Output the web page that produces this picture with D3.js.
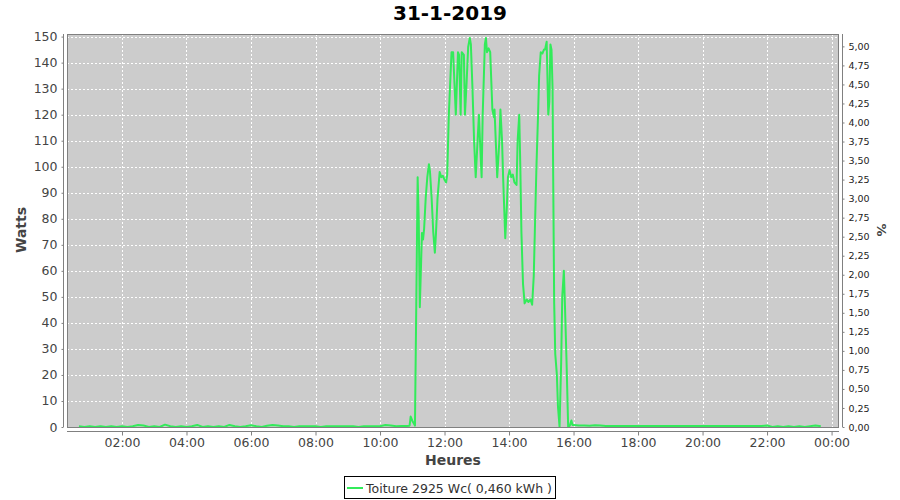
<!DOCTYPE html>
<html><head><meta charset="utf-8">
<script src="https://cdn.jsdelivr.net/npm/d3@7"></script>
<style>body{margin:0;background:#fff;}svg{display:block;font-family:"DejaVu Sans",sans-serif;}</style>
</head><body>
<svg id="c" width="900" height="500"></svg>
<script>
const title = "31-1-2019";
const seriesName = "Toiture 2925 Wc( 0,460 kWh )";
const peakWc = 2925;
const xTickFormat = "%H:%M";
const yTicksLeft = [0,10,20,30,40,50,60,70,80,90,100,110,120,130,140,150];
const yTicksRight = [0,0.25,0.5,0.75,1,1.25,1.5,1.75,2,2.25,2.5,2.75,3,3.25,3.5,3.75,4,4.25,4.5,4.75,5];

// night (morning) readings, every 10 min from 00:40
const nightAMStart = "00:40";
const nightAM = [0.3,0,0.3,0,0.3,0,0.3,0,0.3,0,0.3,0.8,0.6,0,0.3,0,0.9,0.3,0,0.3,0,0.3,0.8,0,0.3,0,0.3,0,0.8,0.3,0,0.3,0.7,0.3,0,0.5,0.8,0.6,
  0.3,0.3,0,0.3,0.3,0.3,0.3,0,0.3,0.3,0.3,0.3,0.3,0.3,0,0.3,0.3,0.3,0.3,0.8,0.6,0.3,0.4,0.4];
// daytime readings
const dayTimes = ["10:55","10:57","11:01","11:04","11:05","11:10","11:12","11:14","11:16","11:18","11:20","11:22","11:25","11:28","11:31","11:33","11:36","11:39","11:42","11:44","11:47","11:51","11:54","11:57","12:00","12:03","12:05","12:08",
  "12:13","12:16","12:21","12:25","12:27","12:30","12:32","12:36","12:38","12:41","12:44","12:47","12:49","12:52","12:55","12:58","13:01","13:04","13:06","13:09","13:11","13:15","13:17","13:19","13:22","13:25","13:29","13:32","13:33","13:38","13:42","13:44","13:47","13:49","13:53","13:56","13:58",
  "14:01","14:04","14:07","14:10","14:14","14:16","14:19","14:21","14:23","14:26","14:29","14:33","14:36","14:40","14:43","14:46","14:48","14:51","14:54","14:56","14:59","15:02","15:05","15:07","15:10","15:13","15:15","15:17","15:19","15:21","15:22","15:24","15:26","15:29","15:31","15:34","15:37","15:39","15:42","15:44","15:47","15:50","15:53","15:56","15:58"];
const dayWatts = [0.5,4,2,1,0.5,96,80,46,60,74.5,72,76,88,96,101,98,88,75,67,74,88,98,96,96.5,95,94,97,120,
  144,144,120,144,143,120,144,143,120,132,146,149.5,147,130,110,96,108,120,110,96,120,147,149.5,144,145.5,144,122,119,122,96,110,122,110,96,72.5,85,96,
  98.7,96,97,94,93,110,120,100,75,55,47.5,49,48,49,47,58,75,100,120,135,144,143.5,145,145,148,120,125,147,145,130,100,47.5,28,20,8,0,25,50,60,47,25,0,0.5,2.5,0.8];
// night (evening) readings, every 10 min from 16:00
const nightPMStart = "16:00";
const nightPM = [0.8,0.6,0.6,0.5,0.7,0.6,
  0.4,0.4,0.4,0.4,0.4,0.4,0.4,0.4,0.4,0.4,0.4,0.4,0.4,0.4,0.4,0.4,0.4,0.4,0.4,0.4,0.4,0.4,0.4,0.4,0.4,0.4,0.4,0.4,0.4,0.4,
  0.6,0,0.3,0,0.3,0,0.3,0,0.3,0.6,0.3];

const day = d => { const [h,m] = d.split(":").map(Number); return new Date(2019,0,31,h,m); };
const data = [];
nightAM.forEach((v,i)=>data.push({t:d3.timeMinute.offset(day(nightAMStart),10*i),v}));
dayTimes.forEach((t,i)=>data.push({t:day(t),v:dayWatts[i]}));
nightPM.forEach((v,i)=>data.push({t:d3.timeMinute.offset(day(nightPMStart),10*i),v}));

const svg = d3.select("#c");
const P = {l:67, t:34, r:839, b:427};
const x = d3.scaleTime().domain([new Date(2019,0,31,0,17,42), new Date(2019,1,1,0,13,50)]).range([P.l,P.r]);
const y = d3.scaleLinear().domain([0,151]).range([P.b,P.t]);
const y2 = d3.scaleLinear().domain([0,151/peakWc*100]).range([P.b,P.t]);

svg.append("text").attr("x",450).attr("y",20).attr("text-anchor","middle")
  .attr("font-size",20).attr("font-weight","bold").attr("fill","#000").text(title);

svg.append("rect").attr("x",P.l).attr("y",P.t).attr("width",P.r-P.l).attr("height",P.b-P.t).attr("fill","#cccccc");

const xt = d3.timeHour.every(2).range(new Date(2019,0,31,1,0), new Date(2019,1,1,0,30));
const g = svg.append("g");
g.selectAll(".vg").data(xt).join("line").attr("x1",d=>Math.round(x(d))+0.5).attr("x2",d=>Math.round(x(d))+0.5)
  .attr("y1",P.t).attr("y2",P.b).attr("stroke","#ffffff").attr("stroke-dasharray","2,2").attr("stroke-width",1);
g.selectAll(".hg").data(yTicksLeft).join("line").attr("y1",d=>Math.round(y(d))+0.5).attr("y2",d=>Math.round(y(d))+0.5)
  .attr("x1",P.l).attr("x2",P.r).attr("stroke","#ffffff").attr("stroke-dasharray","2,2").attr("stroke-width",1);

svg.append("clipPath").attr("id","clip").append("rect").attr("x",P.l).attr("y",P.t).attr("width",P.r-P.l).attr("height",P.b-P.t);
svg.append("path").datum(data).attr("clip-path","url(#clip)")
  .attr("d",d3.line().x(d=>x(d.t)).y(d=>y(d.v)))
  .attr("fill","none").attr("stroke","#32eb5a").attr("stroke-width",2).attr("stroke-linejoin","round");

svg.append("rect").attr("x",P.l+0.5).attr("y",P.t+0.5).attr("width",P.r-P.l-1).attr("height",P.b-P.t)
  .attr("fill","none").attr("stroke","#808080").attr("stroke-width",1);

// left axis
const ax = svg.append("g").attr("transform",`translate(63.5,0)`)
  .call(d3.axisLeft(y).tickValues(yTicksLeft).tickSize(2).tickPadding(4).tickFormat(d3.format("d")));
ax.select(".domain").attr("d",`M0,${P.t}V${P.b}`).attr("stroke","#808080");
ax.selectAll(".tick line").attr("stroke","#808080");
ax.selectAll("text").attr("font-size",12.5).attr("fill","#444").attr("font-family","DejaVu Sans");

// right axis
const ar = svg.append("g").attr("transform",`translate(842.5,0)`)
  .call(d3.axisRight(y2).tickValues(yTicksRight).tickSize(2).tickPadding(4).tickFormat(d=>d3.format(".2f")(d).replace(".",",")));
ar.select(".domain").attr("d",`M0,${P.t}V${P.b}`).attr("stroke","#808080");
ar.selectAll(".tick line").attr("stroke","#808080");
ar.selectAll("text").attr("font-size",9.5).attr("fill","#222").attr("font-family","DejaVu Sans");

// bottom axis
const ab = svg.append("g").attr("transform",`translate(0,431.5)`)
  .call(d3.axisBottom(x).tickValues(xt).tickSize(4).tickPadding(3).tickFormat(d3.timeFormat(xTickFormat)));
ab.select(".domain").attr("d",`M${P.l},0H${P.r}`).attr("stroke","#808080");
ab.selectAll(".tick line").attr("stroke","#808080");
ab.selectAll("text").attr("font-size",12.5).attr("fill","#444").attr("font-family","DejaVu Sans");

svg.append("text").attr("x",453).attr("y",465).attr("text-anchor","middle").attr("font-size",14)
  .attr("font-weight","bold").attr("fill","#444").text("Heures");
svg.append("text").attr("transform","translate(26,230) rotate(-90)").attr("text-anchor","middle").attr("font-size",14)
  .attr("font-weight","bold").attr("fill","#444").text("Watts");
svg.append("text").attr("transform","translate(877,230) rotate(90)").attr("text-anchor","middle").attr("font-size",13)
  .attr("font-weight","bold").attr("fill","#444").text("%");

// legend
const lg = svg.append("g");
lg.append("rect").attr("x",344.5).attr("y",476.5).attr("width",211).attr("height",22).attr("fill","#fff").attr("stroke","#000");
lg.append("line").attr("x1",347).attr("x2",363).attr("y1",488).attr("y2",488).attr("stroke","#32eb5a").attr("stroke-width",2);
lg.append("text").attr("x",366).attr("y",492.5).attr("font-size",12.5).attr("fill","#333").text(seriesName);
</script>
</body></html>
